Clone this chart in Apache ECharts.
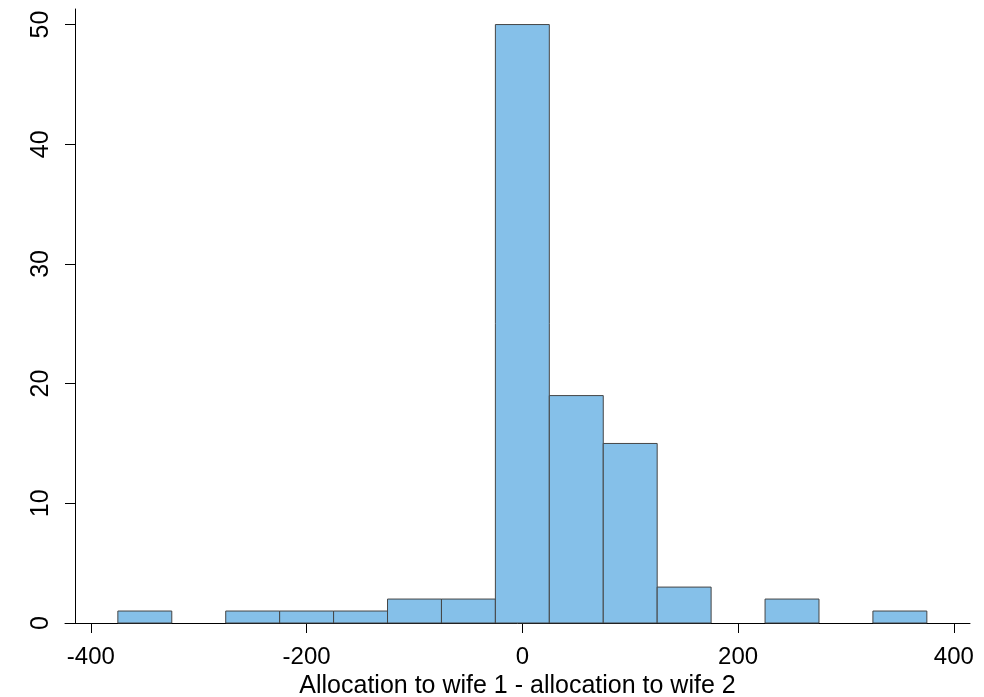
<!DOCTYPE html>
<html>
<head>
<meta charset="utf-8">
<script src="https://cdn.jsdelivr.net/npm/echarts@6/dist/echarts.min.js"></script>
<style>
html,body{margin:0;padding:0;background:#fff;}
#chart{width:984px;height:697px;}
</style>
</head>
<body>
<div id="chart"></div>
<script>
// Histogram bins (start of bin) and counts
const binStarts = [-375, -325, -275, -225, -175, -125, -75, -25, 25, 75, 125, 175, 225, 275, 325];
const binWidth = 50;
const counts = [1, 0, 1, 1, 1, 2, 2, 50, 19, 15, 3, 0, 2, 0, 1];
const xTicks = [-400, -200, 0, 200, 400];
const yTicks = [0, 10, 20, 30, 40, 50];
const xTitle = 'Allocation to wife 1 - allocation to wife 2';

const data = [];
binStarts.forEach((s, i) => {
  if (counts[i] > 0) data.push([s, s + binWidth, counts[i]]);
});

const font = '"Liberation Sans", Arial, sans-serif';
const chart = echarts.init(document.getElementById('chart'), null, {renderer: 'canvas'});
chart.setOption({
  animation: false,
  backgroundColor: '#ffffff',
  grid: {left: 65, right: 14, top: 9, bottom: 74, containLabel: false, outerBoundsMode: 'none'},
  xAxis: {
    type: 'value',
    min: -424,
    max: 415,
    axisLine: {show: true, onZero: false, lineStyle: {color: '#000', width: 1}},
    axisTick: {show: true, length: 10, customValues: xTicks, lineStyle: {color: '#000', width: 1}},
    axisLabel: {customValues: xTicks, margin: 22, fontSize: 24, color: '#000', fontFamily: font},
    splitLine: {show: false},
    name: xTitle,
    nameLocation: 'middle',
    nameGap: 42,
    nameTextStyle: {fontSize: 25, color: '#000', fontFamily: font}
  },
  yAxis: {
    type: 'value',
    min: 0,
    max: 51.3,
    offset: -10,
    axisLine: {show: true, onZero: false, lineStyle: {color: '#000', width: 1}},
    axisTick: {show: true, length: 10, customValues: yTicks, lineStyle: {color: '#000', width: 1}},
    axisLabel: {customValues: yTicks, rotate: 90, margin: 21, fontSize: 25, color: '#000', fontFamily: font},
    splitLine: {show: false}
  },
  series: [{
    type: 'custom',
    data: data,
    encode: {x: [0, 1], y: 2},
    renderItem: function (params, api) {
      const x0 = api.value(0), x1 = api.value(1), y = api.value(2);
      const p0 = api.coord([x0, y]);
      const p1 = api.coord([x1, 0]);
      return {
        type: 'rect',
        shape: {x: p0[0], y: p0[1], width: p1[0] - p0[0], height: p1[1] - p0[1]},
        style: {fill: '#85C0E9', stroke: '#454545', lineWidth: 1}
      };
    }
  }]
});
</script>
</body>
</html>
